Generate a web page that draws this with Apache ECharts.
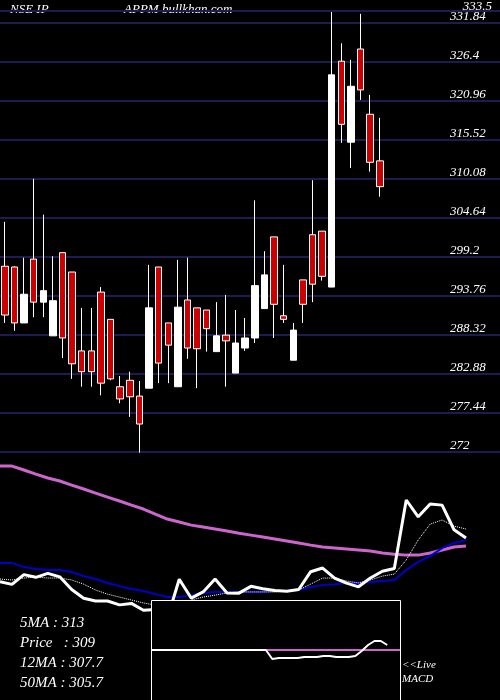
<!DOCTYPE html>
<html><head><meta charset="utf-8">
<script src="https://cdn.jsdelivr.net/npm/echarts@6/dist/echarts.min.js"></script>
<style>html,body{margin:0;background:#000}#c{width:500px;height:700px}</style>
</head><body><div id="c"></div>
<script>
// candles: [open, close, low, high]
const opens  = [297.9,297.8,290.0,298.9,292.9,288.2,299.8,297.1,286.1,286.1,294.3,290.5,281.1,282.0,279.8,280.9,297.8,290.0,281.1,293.2,292.1,291.8,286.0,288.3,283.0,286.5,287.9,292.0,302.0,291.0,284.8,296.0,302.3,302.8,295.0,326.5,315.2,328.2,319.1,312.6];
const closes = [291.1,290.0,294.0,292.9,294.5,293.1,287.9,284.3,283.2,283.2,281.6,282.2,279.4,279.7,275.9,292.1,284.4,286.9,292.2,286.5,286.4,289.2,288.2,287.5,287.2,287.9,295.2,296.7,292.6,290.5,289.0,292.6,295.4,296.5,324.6,317.7,323.0,322.5,312.4,309.0];
const lows   = [290.0,288.9,290.0,290.8,290.8,288.2,285.1,282.2,281.1,281.1,279.9,282.0,278.8,276.9,271.9,280.9,281.6,281.6,281.1,285.0,280.9,286.0,286.0,281.1,283.0,286.1,287.2,292.0,287.9,290.0,284.8,290.0,292.9,295.9,295.0,315.1,311.6,321.1,311.1,307.6];
const highs  = [304.1,297.9,299.1,310.1,305.1,299.3,299.8,297.1,292.1,292.1,295.0,290.5,282.6,283.2,281.9,298.1,297.8,290.0,298.8,299.1,292.1,291.8,292.9,293.9,291.8,290.7,307.1,300.0,302.0,298.1,290.0,296.0,309.9,302.8,333.5,329.0,326.7,333.1,321.8,318.6];
const ma5  = [292.2,291.8,292.6,293.0,292.6,292.6,291.8,290.1,287.7,286.0,284.8,283.6,282.4,281.5,281.1,281.5,283.6,284.8,285.6,286.5,286.9,286.9,286.9,286.9,287.3,287.7,290.1,292.6,292.6,291.4,290.6,291.8,293.4,294.2,300.0,308.2,314.7,316.4,313.9,312.7];
const ma12 = [298.8,298.8,297.1,296.3,295.9,295.9,295.1,293.4,292.2,290.6,289.3,288.1,287.3,286.0,284.8,284.8,285.6,286.5,286.9,286.9,286.9,286.9,286.9,287.3,287.3,287.7,288.9,289.7,290.1,290.6,290.6,291.0,291.4,291.8,295.9,299.2,301.6,304.9,307.0,308.2];
const ma50 = [338.5,338.5,336.9,335.2,333.6,332.4,330.7,329.1,327.4,325.8,324.2,322.5,320.9,318.8,316.8,315.6,314.3,313.5,312.7,311.9,311.0,310.2,309.4,308.6,307.8,307.0,306.1,305.3,304.9,304.5,304.1,303.7,302.9,302.4,302.0,302.0,302.9,304.1,305.3,305.7];
const macd   = [0,0,0,0,0,0,0,0,0,0,0,0,0,0,0,0,0,0,0,-9,-8,-8,-8,-8,-7,-7,-7,-6,-6,-7,-7,-7,-6,-1,5,9,9,5];
const signal = [null,null,null,null,null,null,null,null,null,null,null,null,null,null,null,null,null,null,0,0,0,0,0,0,0,0,0,0,0,0,0,0,0,0,0,0,0,0,0,0];
const priceTicks = [272,277.44,282.88,288.32,293.76,299.2,304.64,310.08,315.52,320.96,326.4,331.84];

const n = closes.length;
const cats = Array.from({length:52},(_,i)=>i);
const cats2 = Array.from({length:n},(_,i)=>i);
const candle = opens.map((o,i)=>[o,closes[i],lows[i],highs[i]]);
const serif = 'Liberation Serif';
const chart = echarts.init(document.getElementById('c'));
chart.setOption({
  backgroundColor:'#000',
  animation:false,
  grid:[
    {left:-2,right:0,top:11,height:441},
    {left:0,width:466,top:460,height:240},
    {left:151,width:249,top:600,height:100}
  ],
  xAxis:[
    {type:'category',data:cats,gridIndex:0,show:false,boundaryGap:true},
    {type:'category',data:cats2,gridIndex:1,show:false,boundaryGap:false},
    {type:'category',data:cats2,gridIndex:2,show:false,boundaryGap:false}
  ],
  yAxis:[
    {type:'value',gridIndex:0,position:'right',min:272,max:333.5,interval:5.44,
     axisLine:{show:false},axisTick:{show:false},
     splitLine:{show:true,lineStyle:{color:'#1c1c52',width:2}},
     axisLabel:{inside:true,align:'left',margin:50,verticalAlign:'bottom',color:'#fff',fontFamily:serif,fontStyle:'italic',fontSize:13,
       formatter:v=>{const t=priceTicks.find(p=>Math.abs(p-v)<0.01);return t===undefined?'':String(t);}}},
    {type:'value',gridIndex:1,min:242.6,max:341,show:false,splitLine:{show:false}},
    {type:'value',gridIndex:2,min:-50,max:50,show:false,splitLine:{show:false}}
  ],
  series:[
    {type:'candlestick',xAxisIndex:0,yAxisIndex:0,data:candle,barWidth:7,
     itemStyle:{color:'#fff',color0:'#cc0000',borderColor:'#fff',borderColor0:'#fff',borderWidth:1},
     markLine:{symbol:'none',silent:true,lineStyle:{color:'#1c1c52',width:2,type:'solid'},
       label:{position:'insideEndTop',color:'#fff',fontFamily:serif,fontStyle:'italic',fontSize:13,formatter:'333.5',distance:[8,-2]},
       data:[{yAxis:333.5}]}},
    {type:'line',xAxisIndex:1,yAxisIndex:1,data:ma50,symbol:'none',lineStyle:{color:'#cc66cc',width:3}},
    {type:'line',xAxisIndex:1,yAxisIndex:1,data:ma12,symbol:'none',lineStyle:{color:'#0000cc',width:2}},
    {type:'line',xAxisIndex:1,yAxisIndex:1,data:ma5,symbol:'none',lineStyle:{color:'#fff',width:1,type:'dotted'}},
    {type:'line',xAxisIndex:1,yAxisIndex:1,data:closes,symbol:'none',lineStyle:{color:'#fff',width:3}},
    {type:'line',xAxisIndex:2,yAxisIndex:2,data:signal,symbol:'none',lineStyle:{color:'#cc66cc',width:2},z:20},
    {type:'line',xAxisIndex:2,yAxisIndex:2,data:macd,symbol:'none',lineStyle:{color:'#fff',width:2},z:21}
  ],
  graphic:[
    {type:'rect',left:151,top:600,shape:{width:249,height:100},style:{fill:'#000',stroke:'#fff',lineWidth:1},z:10},
    {type:'text',left:10,top:3,style:{text:'NSE IP',fill:'#fff',font:'italic 13px "Liberation Serif"'}},
    {type:'text',left:124,top:3,style:{text:'APPM bullkhan.com',fill:'#fff',font:'italic 13px "Liberation Serif"'}},
    {type:'text',left:20,top:616,style:{text:'5MA : 313',fill:'#fff',font:'italic 15px "Liberation Serif"'}},
    {type:'text',left:20,top:636,style:{text:'Price   : 309',fill:'#fff',font:'italic 15px "Liberation Serif"'}},
    {type:'text',left:20,top:656,style:{text:'12MA : 307.7',fill:'#fff',font:'italic 15px "Liberation Serif"'}},
    {type:'text',left:20,top:676,style:{text:'50MA : 305.7',fill:'#fff',font:'italic 15px "Liberation Serif"'}},
    {type:'text',left:402,top:660,style:{text:'<<Live',fill:'#fff',font:'italic 11px "Liberation Serif"'}},
    {type:'text',left:402,top:674,style:{text:'MACD',fill:'#fff',font:'italic 11px "Liberation Serif"'}}
  ]
});
</script></body></html>
